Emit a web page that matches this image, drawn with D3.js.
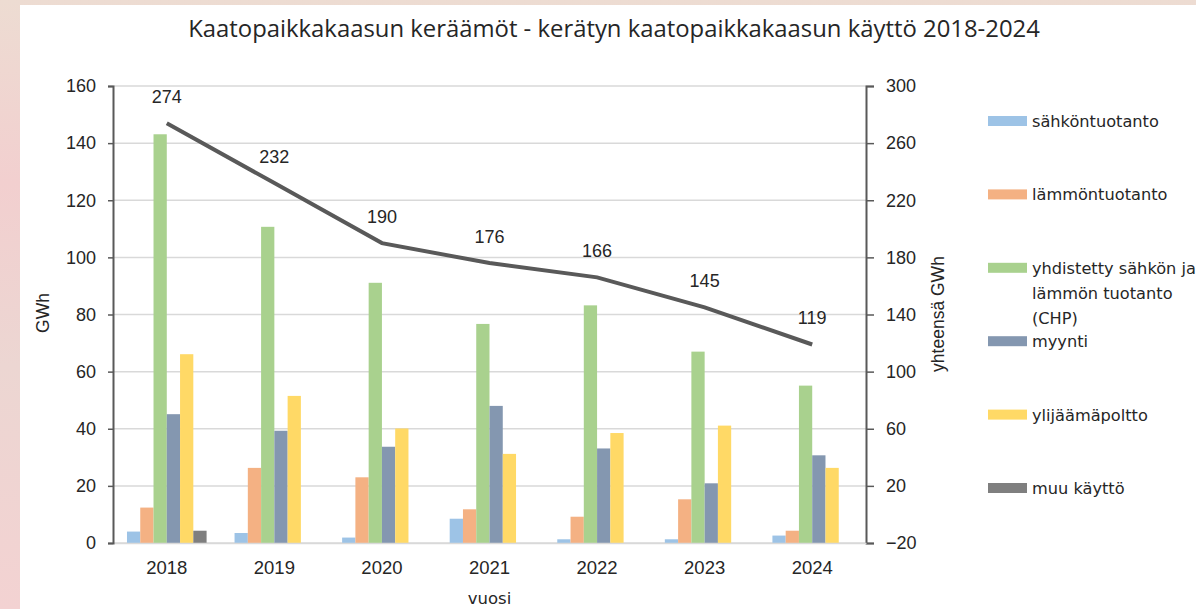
<!DOCTYPE html>
<html>
<head>
<meta charset="utf-8">
<script src="https://cdn.jsdelivr.net/npm/d3@7"></script>
<style>
    body { margin: 0; overflow: hidden; }
</style>
</head>
<body>
<script>
    var years = ['2018', '2019', '2020', '2021', '2022', '2023', '2024'];
    var seriesNames = ['sähköntuotanto', 'lämmöntuotanto', 'yhdistetty sähkön ja lämmön tuotanto (CHP)', 'myynti', 'ylijäämäpoltto', 'muu käyttö'];
    var sahko = [4.0, 3.5, 1.9, 8.5, 1.3, 1.3, 2.6];
    var lampo = [12.4, 26.3, 23.0, 11.8, 9.2, 15.3, 4.3];
    var chp = [143.1, 110.7, 91.1, 76.7, 83.2, 67.0, 55.1];
    var myynti = [45.1, 39.3, 33.7, 48.0, 33.1, 20.9, 30.7];
    var ylijaama = [66.1, 51.5, 40.1, 31.2, 38.5, 41.1, 26.3];
    var muu = [4.3, 0, 0, 0, 0, 0, 0];
    var yhteensa = [274, 232, 190, 176, 166, 145, 119];
    var leftTicks = [0, 20, 40, 60, 80, 100, 120, 140, 160];
    var rightTicks = [-20, 20, 60, 100, 140, 180, 220, 260, 300];

    var seriesValues = [sahko, lampo, chp, myynti, ylijaama, muu];
    var colors = ['#9dc3e6', '#f4b183', '#a9d18e', '#8497b0', '#ffd966', '#7f7f7f'];
    var textColor = '#262626',
        axisColor = '#595959',
        gridColor = '#d9d9d9';

    var W = 1196, H = 609;
    var plot = {left: 113, right: 866, top: 86, bottom: 543};

    var svg = d3.select('body')
            .append('svg')
            .attr('width', W)
            .attr('height', H);

    // Blurred photo frame behind the white panel
    var grad = svg.append('defs').append('linearGradient')
            .attr('id', 'bg')
            .attr('x1', 0).attr('y1', 0).attr('x2', 0).attr('y2', 1);
    grad.append('stop').attr('offset', '0').attr('stop-color', '#eddcd2');
    grad.append('stop').attr('offset', '0.3').attr('stop-color', '#f2cfcf');
    grad.append('stop').attr('offset', '0.6').attr('stop-color', '#ecd6d2');
    grad.append('stop').attr('offset', '1').attr('stop-color', '#f3d2d2');
    svg.append('rect')
            .attr('width', W).attr('height', H)
            .attr('fill', 'url(#bg)');
    svg.append('rect')
            .attr('x', 20).attr('y', 5)
            .attr('width', W - 20).attr('height', H - 5)
            .attr('fill', '#fff');

    // Scales
    var x0 = d3.scaleBand()
            .domain(years)
            .range([plot.left, plot.right])
            .paddingInner(0.26)
            .paddingOuter(0.13);
    var x1 = d3.scaleBand()
            .domain(d3.range(seriesNames.length))
            .range([0, x0.bandwidth()]);
    var yLeft = d3.scaleLinear().domain([0, 160]).range([plot.bottom, plot.top]);
    var yRight = d3.scaleLinear().domain([-20, 300]).range([plot.bottom, plot.top]);

    // Gridlines
    svg.append('g').selectAll('line')
            .data(leftTicks)
            .enter().append('line')
            .attr('x1', plot.left).attr('x2', plot.right)
            .attr('y1', function(d){ return yLeft(d); })
            .attr('y2', function(d){ return yLeft(d); })
            .attr('stroke', gridColor)
            .attr('stroke-width', 1.5);

    // Bars
    for (var s = 0; s < seriesValues.length; s++) {
        svg.append('g').selectAll('rect')
                .data(seriesValues[s])
                .enter().append('rect')
                .attr('x', function(d, i){ return x0(years[i]) + x1(s); })
                .attr('y', function(d){ return yLeft(d); })
                .attr('width', x1.bandwidth())
                .attr('height', function(d){ return yLeft(0) - yLeft(d); })
                .attr('fill', colors[s]);
    }

    // Left axis
    var leftAxis = svg.append('g')
            .attr('transform', 'translate(' + plot.left + ',0)')
            .call(d3.axisLeft(yLeft).tickValues(leftTicks).tickSize(5).tickPadding(12));
    leftAxis.select('.domain').attr('stroke', axisColor).attr('stroke-width', 2);
    leftAxis.selectAll('.tick line').attr('stroke', axisColor).attr('stroke-width', 1.5);
    leftAxis.selectAll('text')
            .attr('fill', textColor)
            .style('font-family', 'Liberation Sans, Arial')
            .style('font-size', '18px');

    // Right axis, minor ticks every 8
    var rightAxis = svg.append('g')
            .attr('transform', 'translate(' + plot.right + ',0)');
    rightAxis.call(d3.axisRight(yRight).tickValues(d3.range(-20, 301, 8)).tickSize(5).tickFormat(''));
    rightAxis.call(d3.axisRight(yRight).tickValues(rightTicks).tickSize(8).tickPadding(12));
    rightAxis.selectAll('.domain').attr('stroke', axisColor).attr('stroke-width', 2);
    rightAxis.selectAll('.tick line').attr('stroke', axisColor).attr('stroke-width', 1.5);
    rightAxis.selectAll('text')
            .attr('fill', textColor)
            .style('font-family', 'Liberation Sans, Arial')
            .style('font-size', '18px');

    // Bottom axis
    var bottomAxis = svg.append('g')
            .attr('transform', 'translate(0,' + plot.bottom + ')')
            .call(d3.axisBottom(x0).tickSize(0).tickPadding(18));
    bottomAxis.select('.domain').attr('stroke', gridColor).attr('stroke-width', 1.5);
    bottomAxis.selectAll('text')
            .attr('fill', textColor)
            .style('font-family', 'Liberation Sans, Arial')
            .style('font-size', '18.5px');
    leftAxis.raise();

    // Total line
    var line = d3.line()
            .x(function(d, i){ return x0(years[i]) + x0.bandwidth() / 2; })
            .y(function(d){ return yRight(d); });
    svg.append('path')
            .datum(yhteensa)
            .attr('d', line)
            .attr('fill', 'none')
            .attr('stroke', axisColor)
            .attr('stroke-width', 4);

    svg.append('g').selectAll('text')
            .data(yhteensa)
            .enter().append('text')
            .attr('x', function(d, i){ return x0(years[i]) + x0.bandwidth() / 2; })
            .attr('y', function(d){ return yRight(d) - 26; })
            .attr('text-anchor', 'middle')
            .attr('dominant-baseline', 'central')
            .attr('fill', textColor)
            .style('font-family', 'Liberation Sans, Arial')
            .style('font-size', '18px')
            .text(function(d){ return d; });

    // Titles
    var fontUi = 'Open Sans, Noto Sans, sans-serif';
    var title = svg.append('text')
            .attr('x', (188 + 1040) / 2)
            .attr('y', 37)
            .attr('text-anchor', 'middle')
            .attr('fill', textColor)
            .style('font-family', fontUi)
            .style('font-size', '21px')
            .text('Kaatopaikkakaasun keräämöt - kerätyn kaatopaikkakaasun käyttö 2018-2024');
    var tw = title.node().getComputedTextLength();
    title.style('font-size', (21 * 852 / tw) + 'px');

    svg.append('text')
            .attr('transform', 'translate(49,313) rotate(-90)')
            .attr('text-anchor', 'middle')
            .attr('fill', textColor)
            .style('font-family', 'Liberation Sans, Arial')
            .style('font-size', '17.5px')
            .text('GWh');
    svg.append('text')
            .attr('transform', 'translate(944,314) rotate(-90)')
            .attr('text-anchor', 'middle')
            .attr('fill', textColor)
            .style('font-family', 'Liberation Sans, Arial')
            .style('font-size', '17.5px')
            .text('yhteensä GWh');
    svg.append('text')
            .attr('x', (plot.left + plot.right) / 2)
            .attr('y', 604)
            .attr('text-anchor', 'middle')
            .attr('fill', textColor)
            .style('font-family', 'DejaVu Sans, sans-serif')
            .style('font-size', '16.5px')
            .text('vuosi');

    // Legend
    var legendLines = [['sähköntuotanto'], ['lämmöntuotanto'], ['yhdistetty sähkön ja', 'lämmön tuotanto', '(CHP)'], ['myynti'], ['ylijäämäpoltto'], ['muu käyttö']];
    var legend = svg.append('g');
    for (var k = 0; k < seriesNames.length; k++) {
        var ly = 121 + k * 73.4;
        legend.append('rect')
                .attr('x', 988).attr('y', ly - 5)
                .attr('width', 39).attr('height', 10)
                .attr('fill', colors[k]);
        var t = legend.append('text')
                .attr('x', 1032).attr('y', ly)
                .attr('dominant-baseline', 'central')
                .attr('fill', textColor)
                .style('font-family', 'DejaVu Sans, sans-serif')
                .style('font-size', '16.2px');
        legendLines[k].forEach(function(txt, j){
            t.append('tspan').attr('x', 1032).attr('y', ly + j * 25).text(txt);
        });
    }
</script>
</body>
</html>
